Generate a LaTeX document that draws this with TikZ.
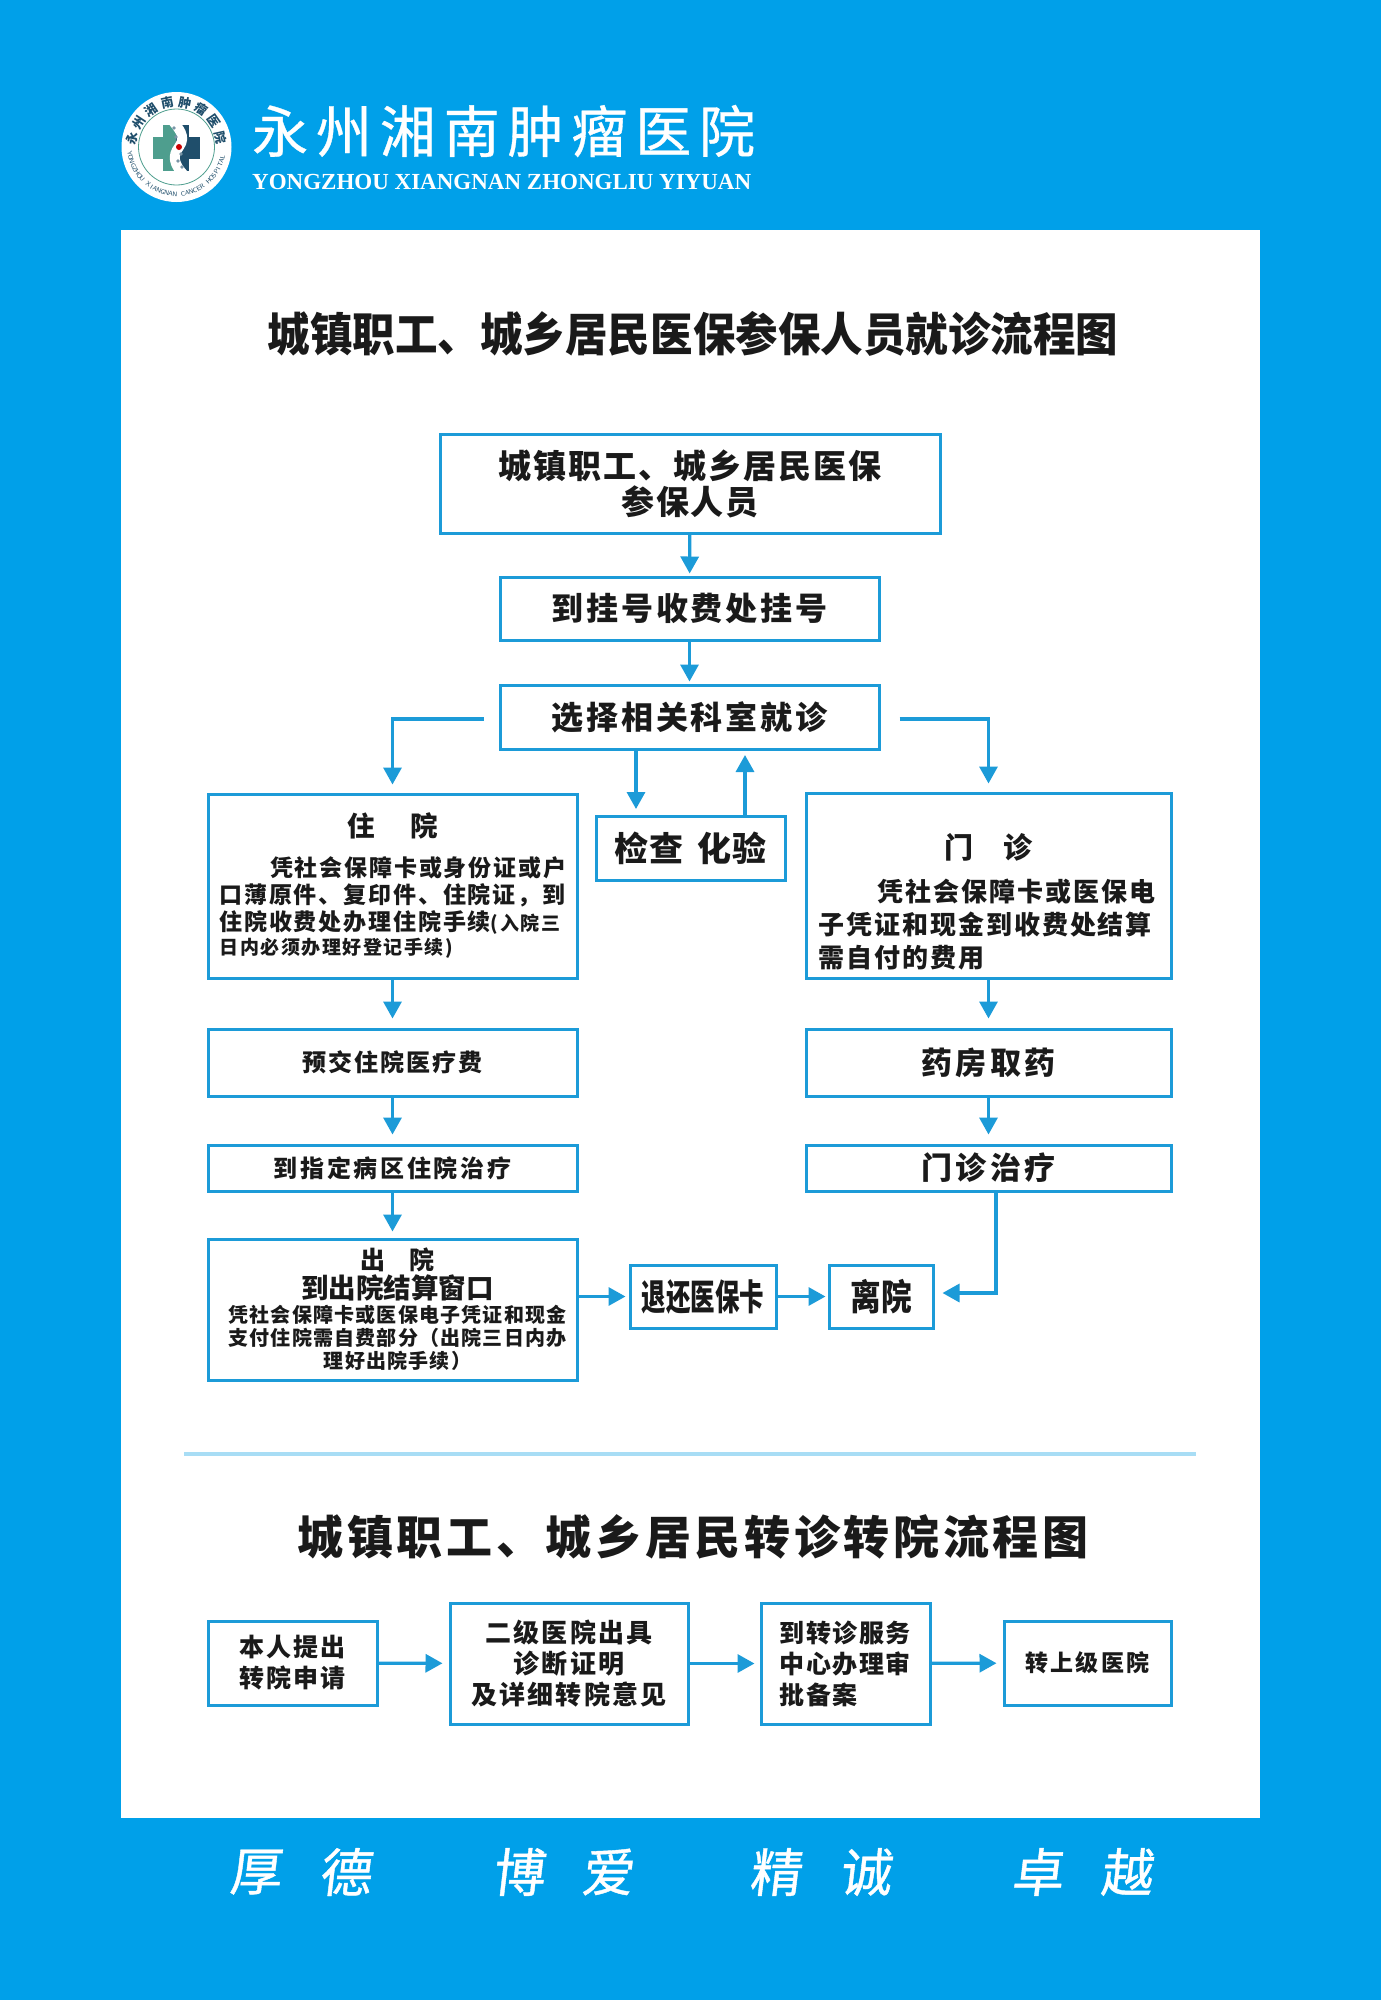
\documentclass[tikz,border=0pt]{standalone}
\usepackage{fontspec}
\usepackage{graphicx}
\setmainfont{Noto Sans CJK SC}
\newfontfamily\enserif{Liberation Serif}
\usetikzlibrary{arrows.meta,calc}
\definecolor{bgblue}{HTML}{00A0E9}
\definecolor{linkblue}{HTML}{1C9BD8}
\definecolor{inkdark}{HTML}{1A1A1A}
\definecolor{rulelight}{HTML}{A8DDF5}
\definecolor{logogreen}{HTML}{4E9E8E}
\definecolor{logonavy}{HTML}{1F4E6B}
\newcommand{\fs}[2]{\fontsize{#1}{#2}\selectfont}
\newcommand{\ls}[1]{\addfontfeature{LetterSpace=#1}}
\newcommand{\ctr}[2]{\begin{minipage}{#1}\centering #2\end{minipage}}
\tikzset{
  flowbox/.style={draw=linkblue,line width=3pt,fill=white,inner sep=0pt,text=inkdark,font=\bfseries,align=center},
  link/.style={draw=linkblue,line width=3.3pt,-{Triangle[length=17pt,width=18pt]}},
  plain/.style={inner sep=0pt,text=inkdark,font=\bfseries,align=center}
}
\newcommand{\bx}[6]{\node[flowbox,minimum width={(#4-#2-1)*1pt},minimum height={(#5-#3)*1pt},at={({(#2+#4-1)/2},{(#3+#5)/2})}] (#1) {#6};}
\begin{document}
\begin{tikzpicture}[x=1pt,y=-1pt]
\useasboundingbox (0,0) rectangle (1381,2000);
\fill[bgblue] (0,0) rectangle (1381,2000);
\fill[white] (121,230) rectangle (1260,1818);
% logo
\fill[white] (176.5,147) circle (55);
\draw[logogreen,line width=.8pt] (176.5,147) circle (38);
\fill[logogreen] (153,137) rectangle (176,159);
\fill[logogreen] (163,125) rectangle (176,171);
\fill[logonavy] (176,137) rectangle (200,159);
\fill[logonavy] (176,125) rectangle (189,171);
\draw[white,line width=10pt] (172,120) .. controls (178,128) and (187,136) .. (179,147) .. controls (172,156) and (174,164) .. (183,174);
\fill[red!80!black] (179,147) circle (3);
\foreach \dx/\dy in {174/128,176/137,181/154,178/161,182/167} \fill[logonavy!60] (\dx,\dy) circle (1.8);
\foreach \c [count=\i from 0] in {永,州,湘,南,肿,瘤,医,院} {
  \pgfmathsetmacro\ang{-169+\i*22.4}
  \node[inner sep=0pt,text=logonavy,font=\bfseries\fs{12.5}{13},rotate={-(\ang+90)}] (lg\i) at ({176.5+45*cos(\ang)},{147+45*sin(\ang)}) {\c};
}
\foreach \c [count=\i from 0] in {Y,O,N,G,Z,H,O,U,{ },X,I,A,N,G,N,A,N,{ },C,A,N,C,E,R,{ },H,O,S,P,I,T,A,L} {
  \pgfmathsetmacro\ang{172-\i*5}
  \node[inner sep=0pt,text=logonavy,font=\sffamily\fs{6.5}{7},rotate={90-\ang}] (le\i) at ({176.5+47*cos(\ang)},{147+47*sin(\ang)}) {\c};
}
% header
\node[inner sep=0pt,text=white,anchor=west,font=\fs{56}{56}\addfontfeature{LetterSpace=14,FakeBold=0.6}] (hosp) at (252,131) {永州湘南肿瘤医院};
\node[inner sep=0pt,text=white,anchor=west,font=\enserif\bfseries\fs{23}{23}] (hospen) at (252,182) {YONGZHOU XIANGNAN ZHONGLIU YIYUAN};
% titles
\node[plain,font=\bfseries\fs{46}{52}\addfontfeature{FakeStretch=0.924}] (t1) at (693,334) {城镇职工、城乡居民医保参保人员就诊流程图};
\node[plain,font=\bfseries\fs{46}{52}\ls{8}] (t2) at (693,1537) {城镇职工、城乡居民转诊转院流程图};
\draw[rulelight,line width=3.5pt] (184,1454) -- (1196,1454);
% boxes
\bx{A}{440}{434}{941}{533}{\raisebox{-1pt}{\ctr{480pt}{\fs{33}{36}\ls{6}城镇职工、城乡居民医保\\参保人员}}}
\bx{B}{500}{577}{880}{640}{\fs{32}{36}\ls{9}到挂号收费处挂号}
\bx{C}{500}{685}{880}{749}{\raisebox{-1pt}{\fs{32}{36}\ls{9}选择相关科室就诊}}
\bx{inp}{208}{794}{578}{978}{\begin{minipage}{346pt}\fs{23}{27}\ls{8}\raggedright
\makebox[\linewidth]{\fs{27.5}{30}住\hspace{36pt}院}\\[13pt]
\hspace*{2.2em}凭社会保障卡或身份证或户\\口薄原件、复印件、住院证，到\\住院收费处办理住院手续{\fs{19}{27}(入院三}\\[-3pt]{\fs{19}{25}日内必须办理好登记手续)}\end{minipage}}
\bx{chk}{596}{816}{786}{880}{\fs{34}{38}\ls{5}检查\hspace{.4em}化验}
\bx{out}{806}{793}{1172}{978}{\begin{minipage}{340pt}\vspace*{32pt}\fs{26}{33}\ls{7.5}\raggedright
\makebox[\linewidth]{\fs{29}{34}门\hspace{1.05em}诊}\\[10pt]
\hspace*{59pt}凭社会保障卡或医保电\\子凭证和现金到收费处结算\\需自付的费用\end{minipage}}
\bx{pre}{208}{1029}{578}{1096}{\fs{24}{28}\ls{9}预交住院医疗费}
\bx{med}{806}{1029}{1172}{1096}{\raisebox{2.5pt}{\fs{31}{36}\ls{10}药房取药}}
\bx{ward}{208}{1145}{578}{1191}{\fs{24}{28}\ls{11}到指定病区住院治疗}
\bx{clin}{806}{1145}{1172}{1191}{\raisebox{2.5pt}{\fs{31}{36}\ls{10}门诊治疗}}
\bx{dis}{208}{1239}{578}{1380}{\hspace*{10pt}\begin{minipage}{359pt}\fs{20}{23}\centering
{\fs{25}{31}出\hspace{.95em}院}\\[2pt]
{\fs{27.5}{29}到出院结算窗口}\\[1pt]
{\ls{6}凭社会保障卡或医保电子凭证和现金}\\
{\ls{6}支付住院需自费部分（出院三日内办}\\
{\ls{6}理好出院手续）}\end{minipage}}
\bx{ret}{630}{1265}{777}{1328}{\fs{36}{38}\scalebox{0.68}[1]{退还医保卡}}
\bx{lv}{829}{1265}{934}{1328}{\fs{36}{38}\scalebox{0.85}[1]{离院}}
\bx{r1}{208}{1621}{378}{1705}{\ctr{160pt}{\fs{25}{31}\ls{9}本人提出\\转院申请}}
\bx{r2}{450}{1603}{689}{1724}{\ctr{230pt}{\fs{26}{31}\ls{8}二级医院出具\\诊断证明\\及详细转院意见}}
\bx{r3}{761}{1603}{931}{1724}{\begin{minipage}{132pt}\fs{25}{31}\ls{6}到转诊服务\\中心办理审\\批备案\end{minipage}}
\bx{r4}{1004}{1621}{1172}{1705}{\fs{23}{28}\ls{9}转上级医院}
% connectors
\coordinate (downx) at (636,809);
\coordinate (upx) at (745,755);
\coordinate (elbow) at (996,1293);
\draw[link,shorten >=2pt] (A) -- (B);
\draw[link,shorten >=2pt] (B) -- (C);
\draw[link,shorten <=15pt,shorten >=8pt] ([yshift=-2pt]C.west) -| (inp.north);
\draw[link,shorten <=19pt,shorten >=8pt] ([yshift=-2pt]C.east) -| (out.north);
\draw[link] (C.south -| downx) -- (downx);
\draw[link] (chk.north -| upx) -- (upx);
\draw[link,shorten >=9pt] (inp) -- (pre);
\draw[link,shorten >=9pt] (out) -- (med);
\draw[link,shorten >=9pt] (pre) -- (ward);
\draw[link,shorten >=9pt] (med) -- (clin);
\draw[link,shorten >=6pt] (ward) -- (dis);
\draw[link,shorten >=3pt] (dis.east |- ret.west) -- (ret.west);
\draw[link,shorten >=2pt] (ret) -- (lv);
\draw[link,shorten >=8pt] (clin.south -| elbow) |- (lv.east |- elbow);
\draw[link,shorten >=6pt] (r1) -- (r2);
\draw[link,shorten >=5pt] (r2) -- (r3);
\draw[link,shorten >=6pt] (r3) -- (r4);
% motto
\foreach \c/\px in {厚/255,德/345,博/518,爱/607,精/775,诚/865,卓/1037,越/1126} {
  \node[inner sep=0pt,text=white,font=\fs{52}{52}\addfontfeature{FakeSlant=0.12,FakeBold=0.8}] (m\px) at (\px,1872) {\c};
}
\end{tikzpicture}
\end{document}
